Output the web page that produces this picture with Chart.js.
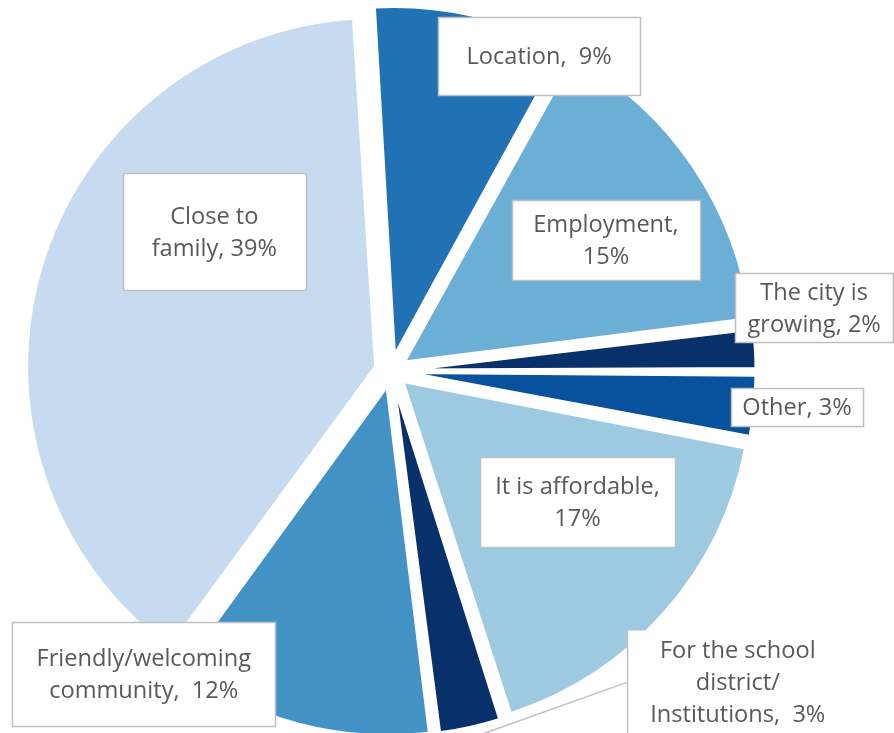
<!DOCTYPE html>
<html>
<head>
<meta charset="utf-8">
<title>Reasons for choosing the city</title>
<script src="https://cdn.jsdelivr.net/npm/chart.js@4.4.1/dist/chart.umd.min.js"></script>
<style>
  html, body { margin: 0; padding: 0; background: #ffffff; overflow: hidden; }
  #wrap { position: relative; width: 894px; height: 733px; }
  canvas { display: block; }
</style>
</head>
<body>
<div id="wrap"><canvas id="chart" width="894" height="733"></canvas></div>
<script>
// Survey answers, in drawing order (clockwise from the top)
const categories = [
  'Location',
  'Employment',
  'The city is growing',
  'Other',
  'It is affordable',
  'For the school district/ Institutions',
  'Friendly/welcoming community',
  'Close to family'
];
const shares = [9, 15, 2, 3, 17, 3, 12, 39];           // percent of respondents
const labelSeparators = [',  ', ', ', ', ', ', ', ', ', ',  ', ',  ', ', '];
const sliceColors = ['#2171B5', '#6BAED6', '#08306B', '#08519C', '#9ECAE1', '#08306B', '#4292C6', '#C6DBEF'];

// Label boxes: turn = degrees away from the slice's middle, rf = distance as a share of the radius
const labelLayout = [
  { turn: 12.5,  rf: 0.997, w: 202, h: 78,  wrap: 200 },
  { turn: 2.75,  rf: 0.721, w: 188, h: 80,  wrap: 165 },
  { turn: -5.0,  rf: 1.226, w: 158, h: 69,  wrap: 148 },
  { turn: -0.4,  rf: 1.168, w: 132, h: 38,  wrap: 130 },
  { turn: -6.4,  rf: 0.653, w: 195, h: 90,  wrap: 185 },
  { turn: -35.6, rf: 1.335, w: 222, h: 104, wrap: 205, frame: 'left', leader: true },
  { turn: 24.7,  rf: 1.121, w: 263, h: 104, wrap: 240 },
  { turn: 22.0,  rf: 0.645, w: 183, h: 117, wrap: 145 }
];

const EXPLODE = 16;          // how far every slice is pulled out from the centre
const RADIUS = 349;
const FONT = '23.6px "Open Sans", "Noto Sans", sans-serif';
const LINE_H = 32;
const TEXT_NUDGE = 1.5;      // optical drop of the text inside each box

// Chart.js grows the radius of pulled-out arcs; keep every slice the same size
const evenExplode = {
  id: 'evenExplode',
  beforeDatasetsDraw(chart) {
    const meta = chart.getDatasetMeta(0);
    const base = meta.controller.outerRadius;
    meta.data.forEach(arc => {
      const fix = 1 - Math.sin(Math.min(Math.PI, arc.circumference));
      arc.outerRadius = base - EXPLODE * fix;
    });
  }
};

function wrapText(ctx, text, maxW) {
  const parts = text.split(/(\s+)/);
  const lines = [];
  let line = '';
  for (let i = 0; i < parts.length; i += 2) {
    const word = parts[i];
    const gap = i > 0 ? parts[i - 1] : '';
    const trial = line ? line + gap + word : word;
    if (line && ctx.measureText(trial).width > maxW) {
      lines.push(line);
      line = word;
    } else {
      line = trial;
    }
  }
  if (line) lines.push(line);
  return lines;
}

const boxLabels = {
  id: 'boxLabels',
  afterDatasetsDraw(chart) {
    const ctx = chart.ctx;
    const meta = chart.getDatasetMeta(0);
    const base = meta.controller.outerRadius;
    ctx.save();
    ctx.font = FONT;
    meta.data.forEach((arc, i) => {
      const lay = labelLayout[i];
      const mid = (arc.startAngle + arc.endAngle) / 2;
      const ang = mid + lay.turn * Math.PI / 180;
      const cx = arc.x + Math.cos(ang) * lay.rf * base;
      const cy = arc.y + Math.sin(ang) * lay.rf * base;
      const x = Math.round(cx - lay.w / 2) + 0.5;
      const y = Math.round(cy - lay.h / 2) + 0.5;

      if (lay.leader) {
        const tx = arc.x + Math.cos(mid) * (EXPLODE + base * 1.03);
        const ty = arc.y + Math.sin(mid) * (EXPLODE + base * 1.03);
        ctx.strokeStyle = '#BFBFBF';
        ctx.lineWidth = 1.5;
        ctx.beginPath();
        ctx.moveTo(x, cy);
        ctx.lineTo(tx, ty);
        ctx.stroke();
      }

      ctx.fillStyle = '#ffffff';
      ctx.fillRect(x, y, lay.w, lay.h);
      ctx.strokeStyle = '#BFBFBF';
      ctx.lineWidth = 1.5;
      ctx.beginPath();
      if (lay.frame === 'left') {
        ctx.moveTo(x, y);
        ctx.lineTo(x, y + lay.h);
      } else {
        ctx.rect(x, y, lay.w, lay.h);
      }
      ctx.stroke();

      const text = categories[i] + labelSeparators[i] + shares[i] + '%';
      const lines = wrapText(ctx, text, lay.wrap);
      ctx.fillStyle = '#595959';
      ctx.textAlign = 'center';
      ctx.textBaseline = 'middle';
      const top = cy + TEXT_NUDGE - (lines.length - 1) * LINE_H / 2;
      lines.forEach((ln, k) => ctx.fillText(ln, cx, top + k * LINE_H));
    });
    ctx.restore();
  }
};

new Chart(document.getElementById('chart'), {
  type: 'pie',
  data: {
    labels: categories,
    datasets: [{
      data: shares,
      backgroundColor: sliceColors,
      borderColor: '#ffffff',
      borderWidth: 3,
      offset: EXPLODE * 4,
      hoverOffset: EXPLODE * 4
    }]
  },
  options: {
    responsive: false,
    devicePixelRatio: 1,
    animation: false,
    events: [],
    rotation: -3.5,
    radius: RADIUS,
    layout: { padding: { left: 0, right: 112, top: 9, bottom: 0 } },
    plugins: {
      legend: { display: false },
      title: { display: false },
      tooltip: { enabled: false }
    }
  },
  plugins: [evenExplode, boxLabels]
});
</script>
</body>
</html>
